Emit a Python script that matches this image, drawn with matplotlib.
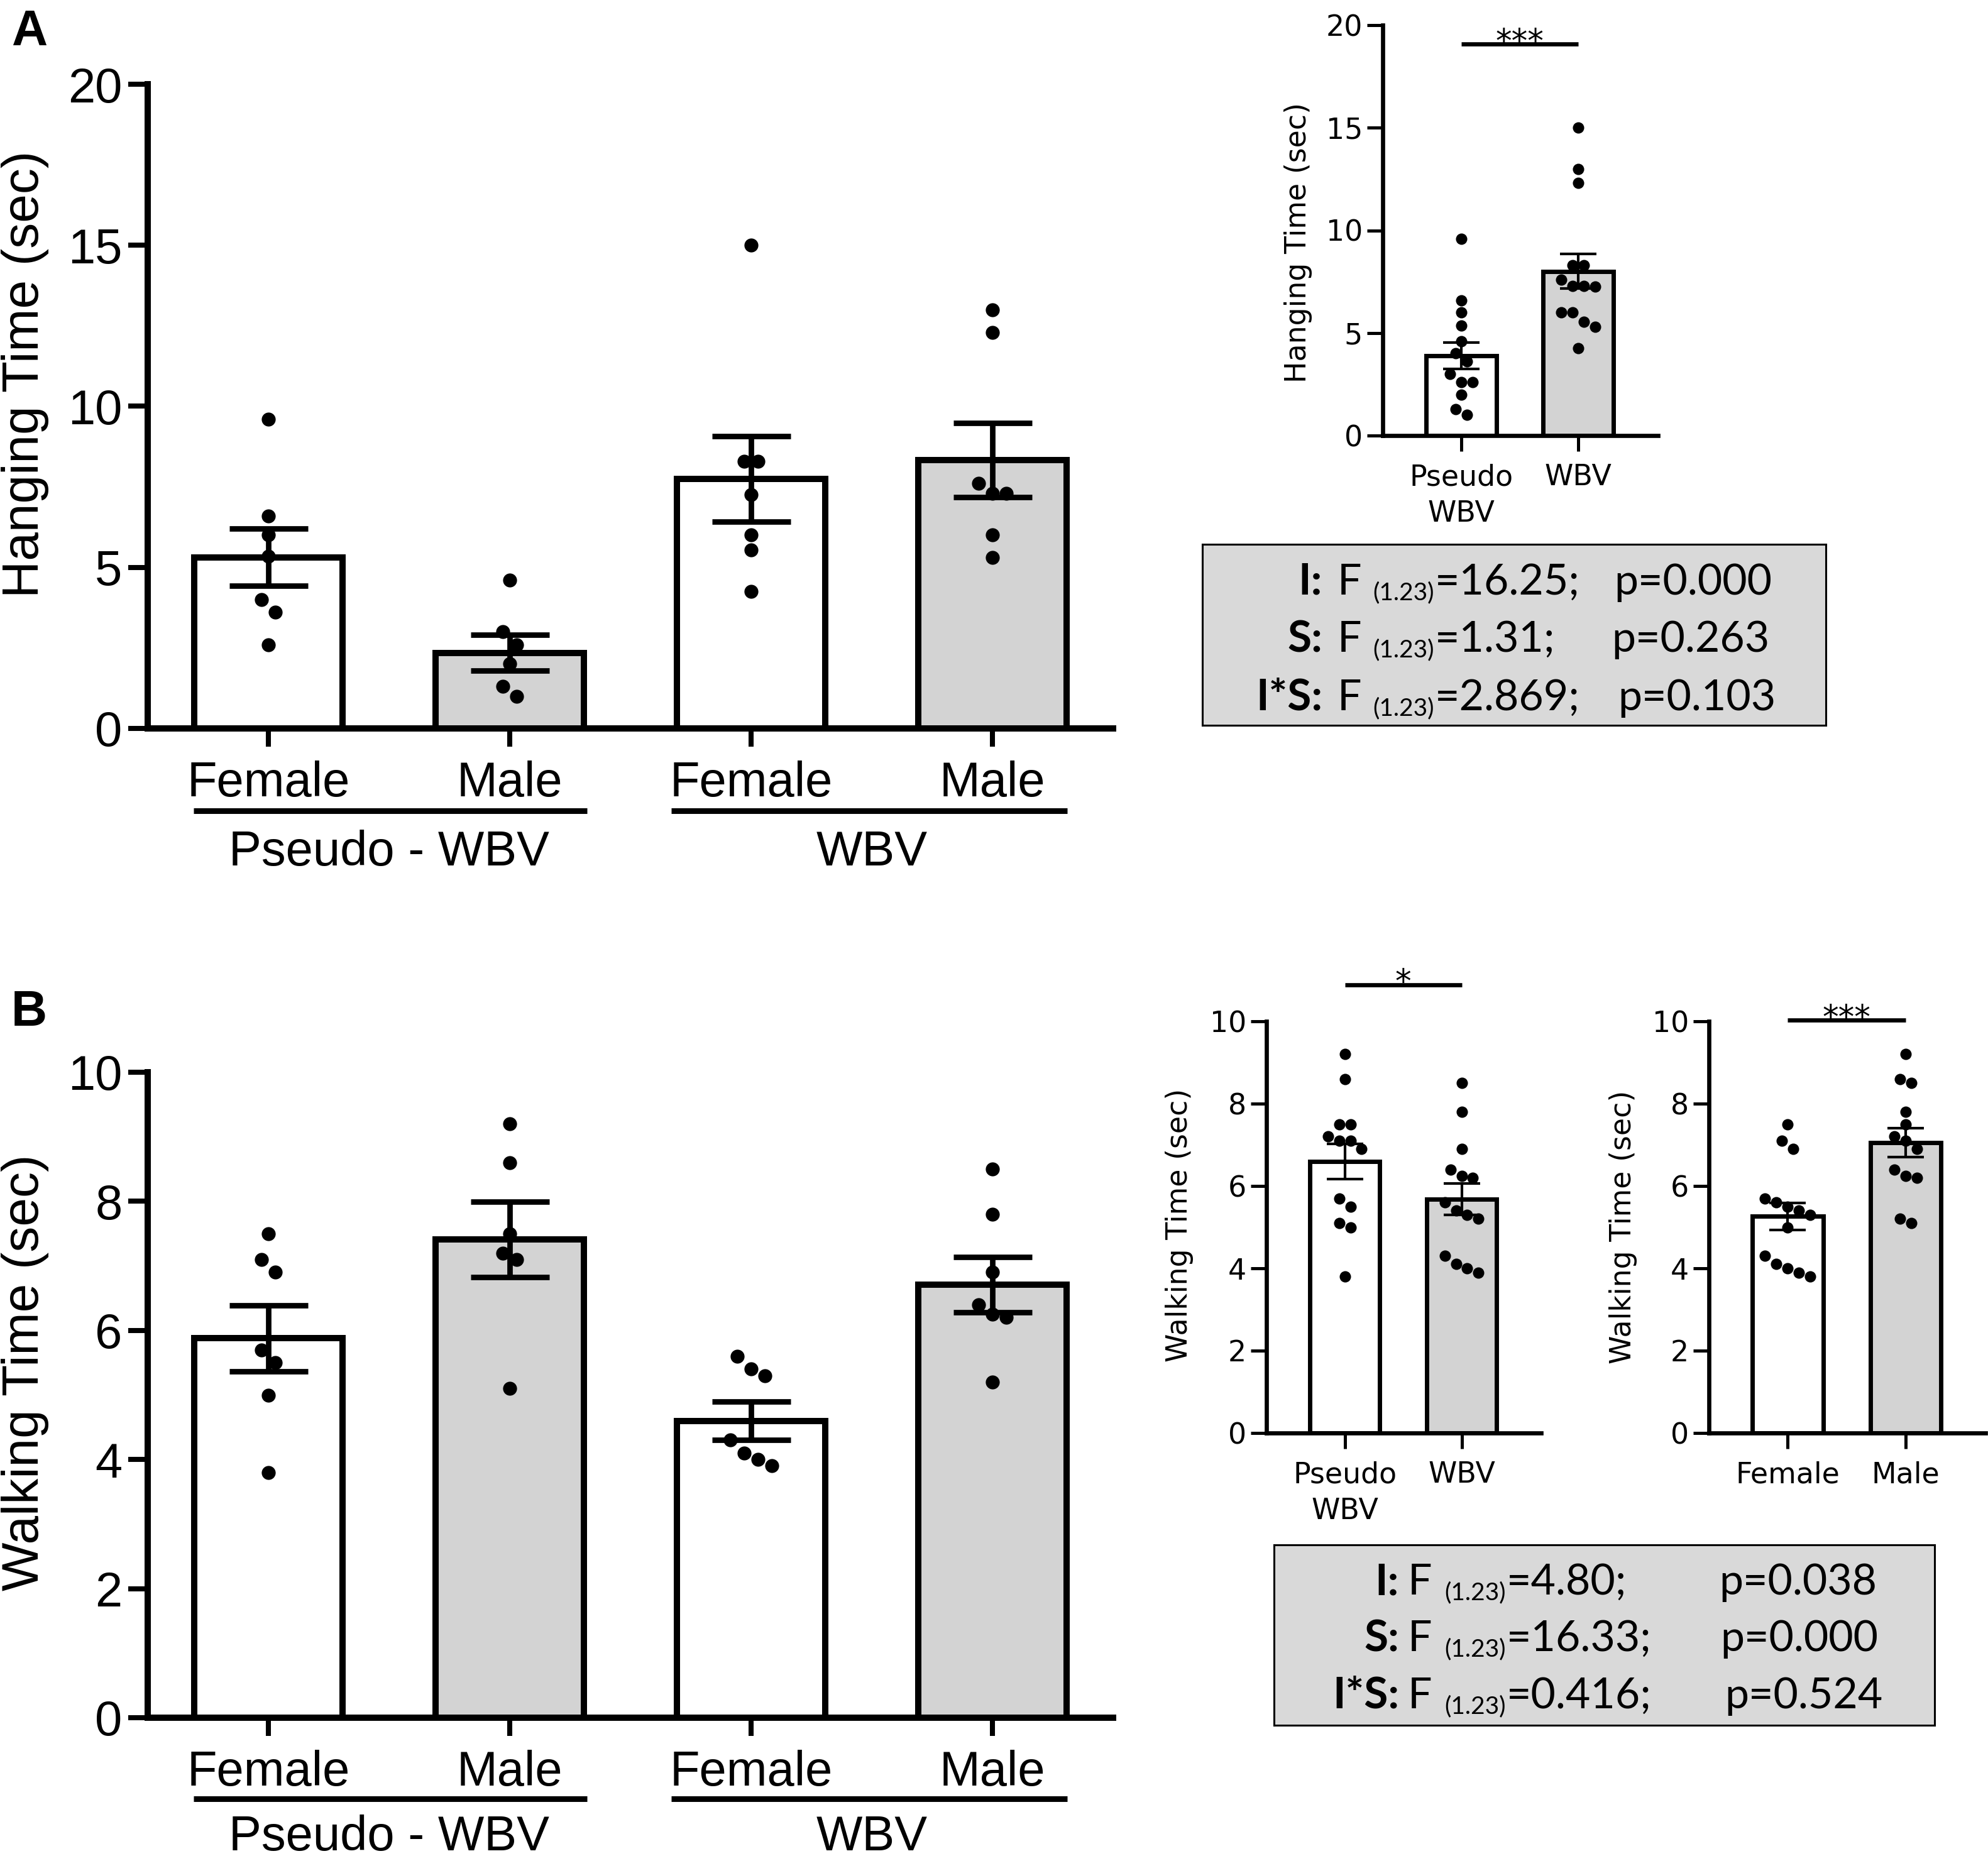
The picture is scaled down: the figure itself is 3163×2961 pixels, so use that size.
import matplotlib
matplotlib.use('Agg')
import matplotlib.pyplot as plt

# ---- data ----
groups_main = ['Female', 'Male', 'Female', 'Male']
treat_labels = ['Pseudo - WBV', 'WBV']

# A: hanging time (sec)
hang_f_pseudo = [9.6, 6.6, 6.0, 5.35, 4.0, 3.6, 2.6]
hang_m_pseudo = [4.6, 3.0, 2.6, 2.0, 1.3, 1.0]
hang_f_wbv = [15.0, 8.3, 8.3, 7.25, 6.0, 5.55, 4.25]
hang_m_wbv = [13.0, 12.3, 7.6, 7.3, 7.3, 6.0, 5.3]
hang_mean = [5.31, 2.35, 7.75, 8.34]
hang_sem = [0.89, 0.55, 1.33, 1.15]
hang_in_mean = [3.89, 8.0]
hang_in_sem = [0.655, 0.845]

# B: walking time (sec)
walk_f_pseudo = [7.5, 7.1, 6.9, 5.7, 5.5, 5.0, 3.8]
walk_m_pseudo = [9.2, 8.6, 7.5, 7.2, 7.1, 5.1]
walk_f_wbv = [5.6, 5.4, 5.3, 4.3, 4.1, 4.0, 3.9]
walk_m_wbv = [8.5, 7.8, 6.9, 6.4, 6.25, 6.2, 5.2]
walk_mean = [5.88, 7.41, 4.60, 6.71]
walk_sem = [0.51, 0.585, 0.295, 0.425]
walk_treat_mean = [6.6, 5.68]
walk_treat_sem = [0.425, 0.385]
walk_sex_mean = [5.26, 7.05]
walk_sex_sem = [0.325, 0.35]

treat_ticks = ['Pseudo\nWBV', 'WBV']
sex_ticks = ['Female', 'Male']

df_text = '(1.23)'
stat_labels = ['I:', 'S:', 'I*S:']
statA_F = ['=16.25;', '=1.31;', '=2.869;']
statA_p = ['p=0.000', 'p=0.263', 'p=0.103']
statB_F = ['=4.80;', '=16.33;', '=0.416;']
statB_p = ['p=0.038', 'p=0.000', 'p=0.524']

WHITE = 'white'
GRAY = '#d3d3d3'
BOXGRAY = '#d9d9d9'
bar_colors = [WHITE, GRAY, WHITE, GRAY]

plt.rcParams['font.family'] = ['Liberation Sans', 'DejaVu Sans']

W, H = 3163, 2961
fig = plt.figure(figsize=(W / 100, H / 100), dpi=100)


def px_axes(l, r, t, b):
    return fig.add_axes([l / W, 1 - b / H, (r - l) / W, (b - t) / H])


def swarm(vals, center, s, h):
    # points close in value are laid side by side, centred on the bar
    order = sorted(vals, reverse=True)
    xs, ys = [], []
    i = 0
    while i < len(order):
        j = i + 1
        while j < len(order) and order[j - 1] - order[j] < h:
            j += 1
        k = j - i
        for m in range(k):
            xs.append(center + (m - (k - 1) / 2) * s)
            ys.append(order[i + m])
        i = j
    return xs, ys


def base_axes(ax, spine_w, tick_w, ylen, xlen, fsize, family, ypad, xpad):
    for side in ['top', 'right']:
        ax.spines[side].set_visible(False)
    for side in ['left', 'bottom']:
        ax.spines[side].set_linewidth(spine_w)
        ax.spines[side].set_capstyle('projecting')
    ax.tick_params(axis='y', direction='out', length=ylen, width=tick_w,
                   labelsize=fsize, pad=ypad)
    ax.tick_params(axis='x', direction='out', length=xlen, width=tick_w,
                   labelsize=fsize, pad=xpad)
    for lab in ax.get_xticklabels() + ax.get_yticklabels():
        lab.set_family(family)
    ax.set_facecolor('none')


def main_panel(ax, point_sets, means, sems, ymax, ystep, ylabel, ylab_y, h,
               line_y, lab_y):
    x = list(range(len(means)))
    ax.bar(x, means, 0.615, color=bar_colors, edgecolor='black',
           linewidth=7.2, zorder=2)
    for xi, pts in zip(x, point_sets):
        xs, ys = swarm(pts, xi, 0.057, h)
        ax.plot(xs, ys, 'o', color='black', ms=16, mew=0, zorder=3,
                clip_on=False)
    ax.errorbar(x, means, yerr=sems, fmt='none', ecolor='black',
                elinewidth=6.3, capsize=45, capthick=6.3, zorder=4)
    ax.set_xlim(-0.5, 3.5)
    ax.set_ylim(0, ymax)
    ax.set_yticks(range(0, ymax + 1, ystep))
    ax.set_xticks(x)
    ax.set_xticklabels(groups_main)
    base_axes(ax, 7.2, 5.8, 22, 21, 56, 'Liberation Sans', 7, 16)
    ax.text(-0.127, ylab_y, ylabel, transform=ax.transAxes, rotation=90,
            ha='center', va='center', fontsize=59)
    tr = ax.get_xaxis_transform()
    ax.plot([-0.31, 1.32], [line_y, line_y], transform=tr, clip_on=False,
            color='black', lw=6.5, solid_capstyle='butt')
    ax.plot([1.67, 3.31], [line_y, line_y], transform=tr, clip_on=False,
            color='black', lw=6.5, solid_capstyle='butt')
    ax.text(0.5, lab_y, treat_labels[0], transform=tr, ha='center',
            va='baseline', fontsize=56)
    ax.text(2.5, lab_y, treat_labels[1], transform=tr, ha='center',
            va='baseline', fontsize=56)


def inset_panel(ax, point_sets, means, sems, ymax, ystep, ylabel, ylab_x,
                ylab_y, ticklabels, h, sig_y, stars):
    x = [0, 1]
    ax.bar(x, means, 0.6, color=[WHITE, GRAY], edgecolor='black',
           linewidth=5.0, zorder=2)
    for xi, pts in zip(x, point_sets):
        xs, ys = swarm(pts, xi, 0.096, h)
        ax.plot(xs, ys, 'o', color='black', ms=13, mew=0, zorder=3,
                clip_on=False)
    ax.errorbar(x, means, yerr=sems, fmt='none', ecolor='black',
                elinewidth=3.0, capsize=21, capthick=3.0, zorder=4)
    ax.set_xlim(-0.67, 1.68)
    ax.set_ylim(0, ymax)
    ax.set_yticks(range(0, ymax + 1, ystep))
    ax.set_xticks(x)
    ax.set_xticklabels(ticklabels, linespacing=1.35)
    base_axes(ax, 4.8, 3.6, 18, 18, 33, 'DejaVu Sans', 5, 14)
    ax.text(ylab_x, ylab_y, ylabel, transform=ax.transAxes, rotation=90,
            ha='center', va='center', fontsize=33, family='DejaVu Sans')
    ax.plot([0, 1], [sig_y, sig_y], color='black', lw=4.8, clip_on=False,
            solid_capstyle='butt')
    ax.annotate(stars, xy=(0.5, sig_y), xytext=(0, -9),
                textcoords='offset points', ha='center', va='baseline',
                fontsize=37, family='DejaVu Sans', annotation_clip=False)


def stats_box(l, r, t, b, lab_x, f_x, sub_gap, p_xs, baselines, fvals, pvals):
    box = px_axes(l, r, t, b)
    box.set_facecolor(BOXGRAY)
    box.set_xticks([])
    box.set_yticks([])
    for sp in box.spines.values():
        sp.set_linewidth(2.2)
    renderer = fig.canvas.get_renderer()
    for lab, fv, pv, px, yb in zip(stat_labels, fvals, pvals, p_xs, baselines):
        fig.text(lab_x / W, 1 - yb / H, lab, ha='right', va='baseline',
                 fontsize=50, weight='bold', family='Lato')
        t1 = fig.text(f_x / W, 1 - yb / H, 'F', ha='left', va='baseline',
                      fontsize=49, family='Lato')
        xpos = t1.get_window_extent(renderer).x1 + sub_gap
        t2 = fig.text(xpos / W, 1 - (yb + 8) / H, df_text, ha='left',
                      va='baseline', fontsize=28, family='Lato')
        xpos = t2.get_window_extent(renderer).x1 + 1
        fig.text(xpos / W, 1 - yb / H, fv, ha='left', va='baseline',
                 fontsize=49, family='Lato')
        fig.text(px / W, 1 - yb / H, pv, ha='left', va='baseline',
                 fontsize=49, family='Lato')


# ---- panel A ----
axA = px_axes(235, 1771, 134, 1159)
main_panel(axA, [hang_f_pseudo, hang_m_pseudo, hang_f_wbv, hang_m_wbv],
           hang_mean, hang_sem, 20, 5, 'Hanging Time (sec)', 0.55, 0.43,
           -0.128, -0.213)

axAi = px_axes(2200, 2638, 40, 693)
inset_panel(axAi, [hang_f_pseudo + hang_m_pseudo, hang_f_wbv + hang_m_wbv],
            hang_in_mean, hang_in_sem, 20, 5, 'Hanging Time (sec)', -0.308,
            0.47, treat_ticks, 0.55, 19.08, '***')

stats_box(1913, 2905, 866, 1154, 2104, 2128, 18, [2568, 2564, 2574],
          [946, 1037, 1130], statA_F, statA_p)

# ---- panel B ----
axB = px_axes(235, 1771, 1706, 2733)
main_panel(axB, [walk_f_pseudo, walk_m_pseudo, walk_f_wbv, walk_m_wbv],
           walk_mean, walk_sem, 10, 2, 'Walking Time (sec)', 0.535, 0.21,
           -0.126, -0.205)

axB1 = px_axes(2015, 2452, 1625, 2280)
inset_panel(axB1, [walk_f_pseudo + walk_m_pseudo, walk_f_wbv + walk_m_wbv],
            walk_treat_mean, walk_treat_sem, 10, 2, 'Walking Time (sec)',
            -0.318, 0.505, treat_ticks, 0.27, 10.89, '*')

axB2 = px_axes(2719, 3159, 1625, 2280)
inset_panel(axB2, [walk_f_pseudo + walk_f_wbv, walk_m_pseudo + walk_m_wbv],
            walk_sex_mean, walk_sex_sem, 10, 2, 'Walking Time (sec)',
            -0.311, 0.50, sex_ticks, 0.27, 10.03, '***')

stats_box(2027, 3078, 2458, 2745, 2226, 2240, 20, [2735, 2737, 2744],
          [2537, 2627, 2718], statB_F, statB_p)

fig.text(18 / W, 1 - 72 / H, 'A', fontsize=57, weight='bold', va='baseline')
fig.text(18 / W, 1 - 1632 / H, 'B', fontsize=57, weight='bold', va='baseline')

fig.savefig('out.png', dpi=100, facecolor='white')
